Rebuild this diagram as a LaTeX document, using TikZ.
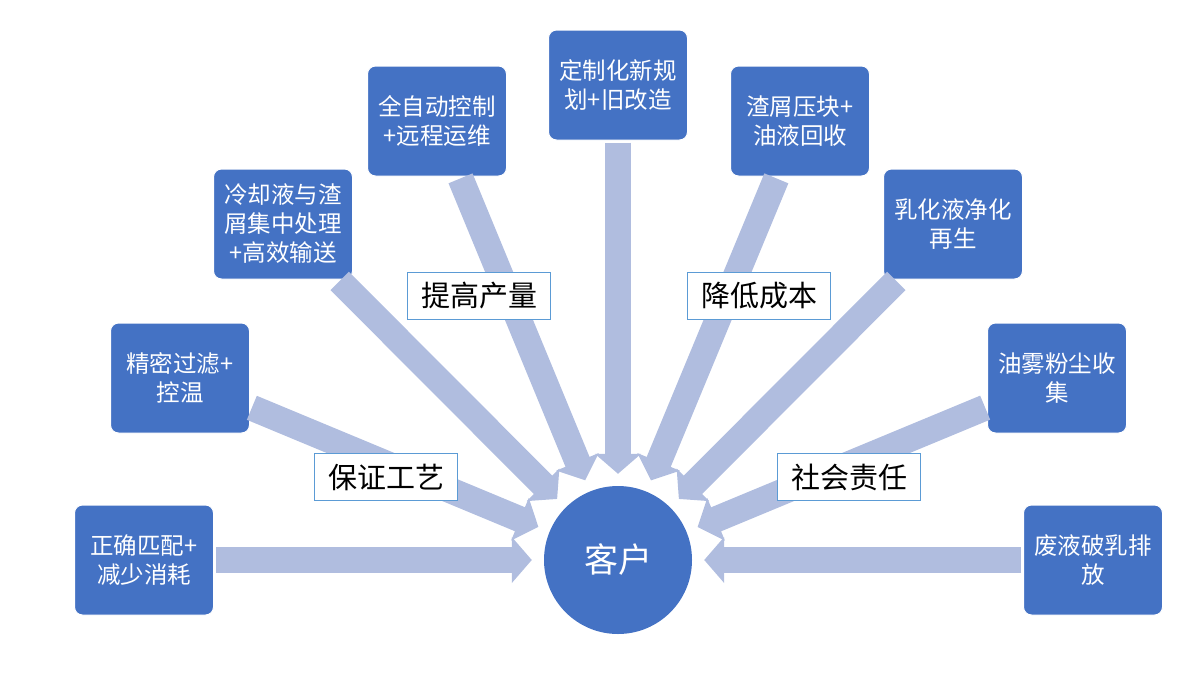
\documentclass[tikz,border=0pt]{standalone}
\usepackage{fontspec}
\setmainfont{Noto Sans CJK SC}
\usetikzlibrary{arrows.meta}
\definecolor{boxblue}{HTML}{4472C4}
\definecolor{feedblue}{HTML}{B0BDDF}
\definecolor{tagline}{HTML}{5B9BD5}
\begin{document}
\begin{tikzpicture}[x=1pt, y=-1pt,
    box/.style={draw=white, line width=1pt, fill=boxblue, rounded corners=8pt, minimum width=139pt, minimum height=110pt, inner sep=2pt, text=white, align=center, font=\fontsize{23.5}{29}\selectfont},
    tag/.style={draw=tagline, line width=1.8pt, fill=white, minimum width=143pt, minimum height=47pt, font=\fontsize{29}{33}\selectfont},
    feed/.style={feedblue, line width=26pt, -{Triangle[width=45pt,length=20pt]}, shorten <=2pt, shorten >=12pt}]
    \useasboundingbox (0,0) rectangle (1200,689);
    \node[circle, fill=boxblue, minimum size=148pt, inner sep=0pt, text=white, font=\fontsize{34}{36}\selectfont] (cust) at (618,560) {客户};

    \node[box] (b1) at (144,560) {正确匹配+\\减少消耗};
    \node[box] (b2) at (180,378) {精密过滤+\\控温};
    \node[box] (b3) at (283,224) {冷却液与渣\\屑集中处理\\+高效输送};
    \node[box] (b4) at (437,121) {全自动控制\\+远程运维};
    \node[box] (b5) at (618,85) {定制化新规\\划+旧改造};
    \node[box] (b6) at (800,121) {渣屑压块+\\油液回收};
    \node[box] (b7) at (953,224) {乳化液净化\\再生};
    \node[box] (b8) at (1057,378) {油雾粉尘收\\集};
    \node[box] (b9) at (1093,560) {废液破乳排\\放};

    \foreach \i in {1,...,9} \draw[feed] (b\i) -- (cust);

    \node[tag] (t1) at (479,296) {提高产量};
    \node[tag] (t2) at (759,296) {降低成本};
    \node[tag] (t3) at (386,477) {保证工艺};
    \node[tag] (t4) at (849,477) {社会责任};
\end{tikzpicture}
\end{document}
